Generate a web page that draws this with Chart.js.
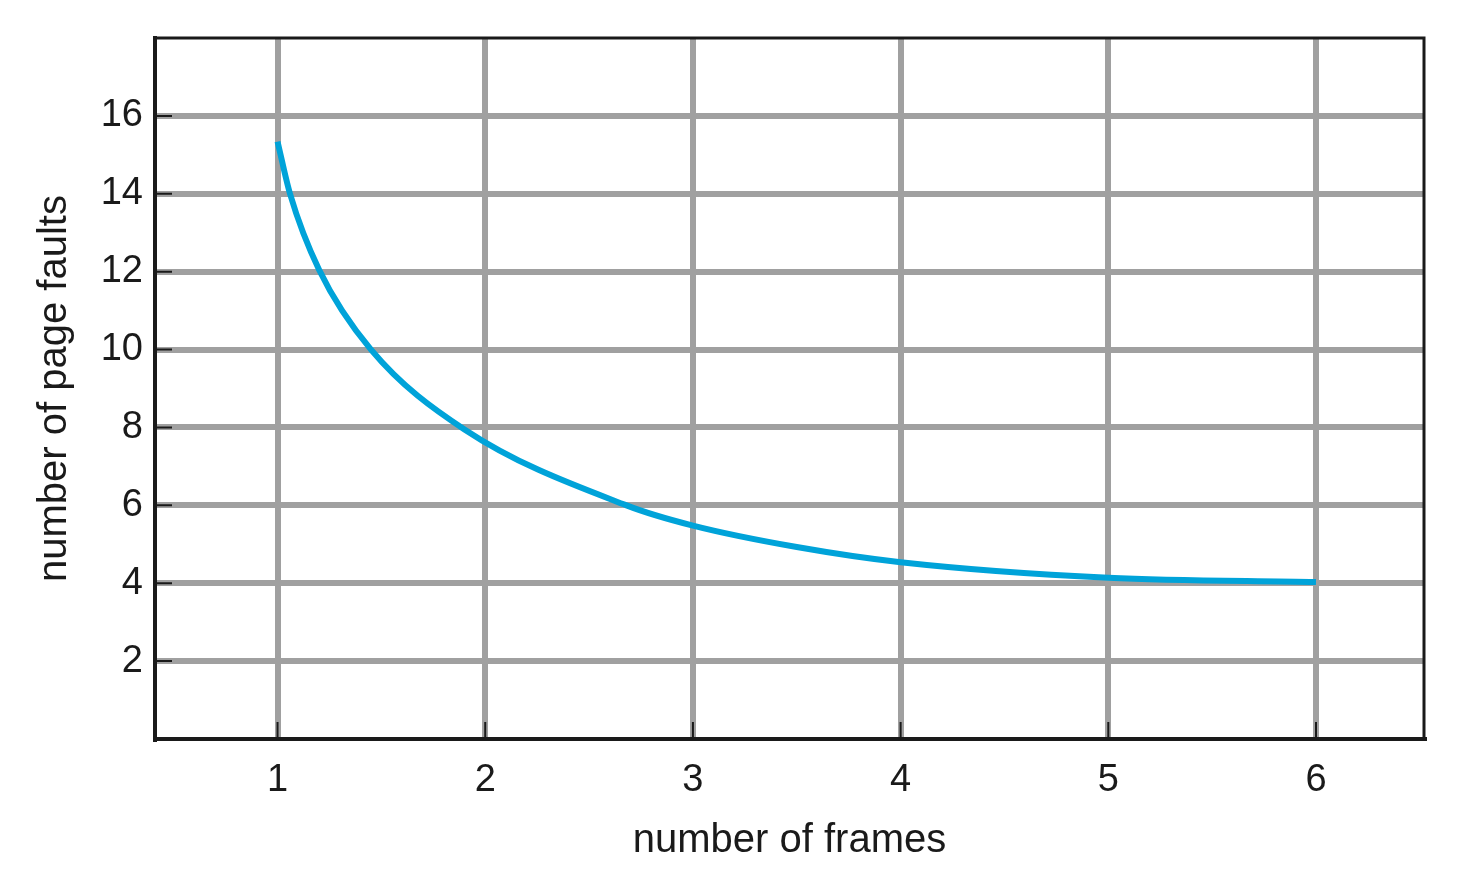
<!DOCTYPE html>
<html>
<head>
<meta charset="utf-8">
<script src="https://cdn.jsdelivr.net/npm/chart.js@4/dist/chart.umd.min.js"></script>
<style>
  html, body { margin: 0; padding: 0; background: #fff; }
  #wrap { width: 1464px; height: 886px; }
</style>
</head>
<body>
<div id="wrap"><canvas id="faults"></canvas></div>
<script>
// values
const frames = [1, 1.06, 1.2, 1.45, 1.9, 2.68, 3, 3.5, 4, 5, 6];
const pageFaults = [15.34, 14, 12.05, 10, 7.95, 6, 5.48, 4.93, 4.54, 4.14, 4.03];
const xTicks = [1, 2, 3, 4, 5, 6];
const yTicks = [2, 4, 6, 8, 10, 12, 14, 16];

const police = '"Liberation Sans", Arial, Helvetica, sans-serif';
const encre = '#1a1a1a';

// top/right frame + short inward tick marks
const cadre = {
    id: 'cadre',
    afterDraw(chart) {
        const ctx = chart.ctx;
        const a = chart.chartArea;
        const sx = chart.scales.x, sy = chart.scales.y;
        ctx.save();
        ctx.strokeStyle = encre;
        ctx.lineWidth = 3;
        ctx.beginPath();
        ctx.moveTo(a.left, a.top);
        ctx.lineTo(a.right, a.top);
        ctx.lineTo(a.right, a.bottom);
        ctx.stroke();
        ctx.lineWidth = 2;
        ctx.beginPath();
        for (let i = 0; i < yTicks.length; i++) {
            const y = sy.getPixelForValue(yTicks[i]);
            ctx.moveTo(a.left, y);
            ctx.lineTo(a.left + 17, y);
        }
        for (let i = 0; i < xTicks.length; i++) {
            const x = sx.getPixelForValue(xTicks[i]);
            ctx.moveTo(x, a.bottom);
            ctx.lineTo(x, a.bottom - 17);
        }
        ctx.stroke();
        ctx.restore();
    }
};

const ctx = document.getElementById('faults').getContext('2d');
const graphe = new Chart(ctx, {
    type: 'line',
    data: {
        datasets: [{
            data: frames.map((f, i) => ({x: f, y: pageFaults[i]})),
            borderColor: '#00a3d9',
            borderWidth: 6,
            pointRadius: 0,
            cubicInterpolationMode: 'monotone',
            fill: false
        }]
    },
    options: {
        responsive: true,
        maintainAspectRatio: false,
        animation: false,
        layout: { padding: { top: 38, right: 40, left: 0, bottom: 0 } },
        plugins: { legend: { display: false }, tooltip: { enabled: false } },
        scales: {
            x: {
                type: 'linear',
                min: 0.41,
                max: 6.52,
                afterBuildTicks: s => { s.ticks = xTicks.map(v => ({value: v})); },
                afterFit: s => { s.height = 147; },
                grid: { color: '#a0a0a0', lineWidth: 6, drawTicks: false },
                border: { display: true, color: encre, width: 4 },
                ticks: { color: encre, font: { family: police, size: 38 }, padding: 19 },
                title: {
                    display: true, text: 'number of frames', color: encre,
                    font: { family: police, size: 40 }, padding: { top: 0, bottom: 21 }
                }
            },
            y: {
                min: 0,
                max: 18,
                afterBuildTicks: s => { s.ticks = yTicks.map(v => ({value: v})); },
                afterFit: s => { s.width = 155; },
                grid: { color: '#a0a0a0', lineWidth: 6, drawTicks: false },
                border: { display: true, color: encre, width: 4 },
                ticks: { color: encre, font: { family: police, size: 38 }, padding: 12 },
                title: {
                    display: true, text: 'number of page faults', color: encre,
                    font: { family: police, size: 40 }, padding: { top: 31, bottom: 0 }
                }
            }
        }
    },
    plugins: [cadre]
});
</script>
</body>
</html>
